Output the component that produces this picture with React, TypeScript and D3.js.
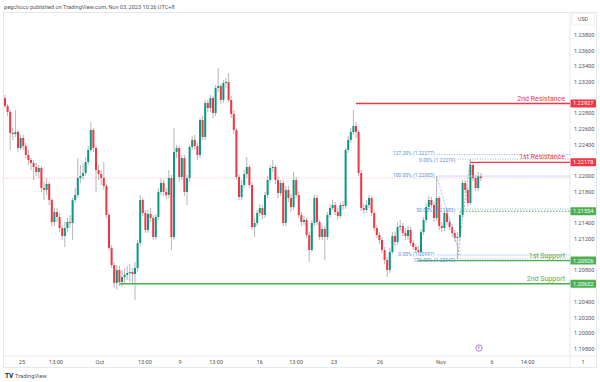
import React from 'react';
import * as d3 from 'd3';

// ---------- DATA ----------
const firstOpen = 1.22997;
const closes = [
  1.22896, 1.22819, 1.22552, 1.22539, 1.22565, 1.22361, 1.22488, 1.22386, 1.22272, 1.22208,
  1.22169, 1.22119, 1.22055, 1.22106, 1.21851, 1.21826, 1.21902, 1.21698, 1.21418, 1.21545,
  1.21482, 1.21341, 1.21239, 1.21341, 1.21418, 1.21405, 1.21698, 1.21762, 1.21978, 1.22004,
  1.22042, 1.22182, 1.22335, 1.22590, 1.22361, 1.22080, 1.22029, 1.21978, 1.21877, 1.21507,
  1.21087, 1.20870, 1.20641, 1.20806, 1.20653, 1.20717, 1.20743, 1.20768, 1.20781, 1.20755,
  1.20832, 1.21150, 1.21698, 1.21533, 1.21316, 1.21520, 1.21469, 1.21227, 1.21482, 1.21800,
  1.21915, 1.21800, 1.21762, 1.21978, 1.21227, 1.22310, 1.22361, 1.21991, 1.22233, 1.21800,
  1.21978, 1.22374, 1.22463, 1.22386, 1.22272, 1.22717, 1.22501, 1.22934, 1.22870, 1.22997,
  1.22806, 1.23125, 1.23150, 1.22972, 1.23189, 1.23201, 1.22972, 1.22794, 1.22590, 1.21991,
  1.21736, 1.21889, 1.22029, 1.22119, 1.21889, 1.21354, 1.21405, 1.21533, 1.21596, 1.21507,
  1.21762, 1.21953, 1.22106, 1.22119, 1.21953, 1.21787, 1.21915, 1.21405, 1.21826, 1.21724,
  1.21609, 1.21953, 1.21762, 1.21507, 1.21418, 1.21443, 1.21252, 1.21061, 1.21405, 1.21724,
  1.21418, 1.21227, 1.21329, 1.21227, 1.21507, 1.21596, 1.21634, 1.21545, 1.21494, 1.21634,
  1.21622, 1.22335, 1.22463, 1.22565, 1.22641, 1.22565, 1.22042, 1.21596, 1.21571, 1.21634,
  1.21724, 1.21533, 1.21341, 1.21252, 1.21189, 1.21061, 1.20934, 1.20806, 1.21036, 1.21239,
  1.21163, 1.21354, 1.21367, 1.21278, 1.21239, 1.21316, 1.21150, 1.21099, 1.21061, 1.21036,
  1.21290, 1.21443, 1.21609, 1.21698, 1.21634, 1.21469, 1.21724, 1.21367, 1.21341, 1.21533,
  1.21418, 1.21354, 1.21278, 1.21214, 1.21227, 1.21507, 1.21915, 1.21826, 1.21660, 1.22144,
  1.21978, 1.21851, 1.22004, 1.21978,
];
const highs = [
  1.23035, 1.22921, 1.22845, 1.22615, 1.22845, 1.22590, 1.22527, 1.22527, 1.22425, 1.22335,
  1.22233, 1.22208, 1.22169, 1.22144, 1.22131, 1.21928, 1.21978, 1.21928, 1.21724, 1.21596,
  1.21596, 1.21533, 1.21380, 1.21418, 1.21469, 1.21507, 1.21724, 1.21851, 1.22233, 1.22144,
  1.22169, 1.22246, 1.22386, 1.22692, 1.22615, 1.22399, 1.22144, 1.22080, 1.22182, 1.21902,
  1.21533, 1.21125, 1.20908, 1.20870, 1.20857, 1.20806, 1.20832, 1.20857, 1.20883, 1.20832,
  1.20908, 1.21189, 1.21762, 1.21724, 1.21571, 1.21571, 1.21596, 1.21507, 1.21520, 1.21851,
  1.21978, 1.21953, 1.21851, 1.22080, 1.22017, 1.22615, 1.22399, 1.22386, 1.22272, 1.22272,
  1.22017, 1.22399, 1.22514, 1.22527, 1.22425, 1.22743, 1.22768, 1.22972, 1.22972, 1.23035,
  1.23023, 1.23163, 1.23380, 1.23176, 1.23227, 1.23252, 1.23316, 1.23023, 1.22845, 1.22615,
  1.22029, 1.21953, 1.22080, 1.22246, 1.22144, 1.21928, 1.21469, 1.21571, 1.21647, 1.21634,
  1.21800, 1.22004, 1.22144, 1.22208, 1.22144, 1.22004, 1.21953, 1.21953, 1.21877, 1.21877,
  1.21775, 1.22055, 1.21991, 1.21800, 1.21545, 1.21494, 1.21469, 1.21290, 1.21443, 1.21762,
  1.21762, 1.21443, 1.21380, 1.21367, 1.21545, 1.21647, 1.21698, 1.21673, 1.21596, 1.21673,
  1.21685, 1.22361, 1.22514, 1.22615, 1.22845, 1.22692, 1.22590, 1.22080, 1.21647, 1.21698,
  1.21762, 1.21749, 1.21571, 1.21380, 1.21290, 1.21227, 1.21099, 1.20972, 1.21087, 1.21290,
  1.21290, 1.21418, 1.21443, 1.21405, 1.21341, 1.21367, 1.21354, 1.21189, 1.21138, 1.21112,
  1.21329, 1.21482, 1.21660, 1.21749, 1.21736, 1.21673, 1.22003, 1.21749, 1.21418, 1.21571,
  1.21571, 1.21469, 1.21392, 1.21316, 1.21290, 1.21545, 1.21953, 1.21953, 1.21864, 1.22219,
  1.22182, 1.22017, 1.22055, 1.22042,
];
const lows = [
  1.22870, 1.22768, 1.22335, 1.22463, 1.22501, 1.22310, 1.22335, 1.22335, 1.22233, 1.22144,
  1.22080, 1.21953, 1.22004, 1.21978, 1.21800, 1.21698, 1.21762, 1.21634, 1.21367, 1.21367,
  1.21418, 1.21290, 1.21189, 1.21099, 1.21290, 1.21341, 1.21189, 1.21660, 1.21724, 1.21915,
  1.21953, 1.22004, 1.22144, 1.22310, 1.22310, 1.21800, 1.21953, 1.21889, 1.21826, 1.21469,
  1.21061, 1.20832, 1.20577, 1.20552, 1.20603, 1.20590, 1.20641, 1.20679, 1.20653, 1.20615,
  1.20424, 1.20781, 1.21112, 1.21494, 1.21278, 1.21278, 1.21418, 1.21189, 1.21189, 1.21443,
  1.21762, 1.21749, 1.21711, 1.21724, 1.21061, 1.21189, 1.22233, 1.21928, 1.21953, 1.21749,
  1.21634, 1.21928, 1.22335, 1.22335, 1.22208, 1.22233, 1.22463, 1.22463, 1.22819, 1.22819,
  1.22743, 1.22768, 1.23074, 1.22921, 1.22934, 1.23125, 1.22946, 1.22743, 1.22539, 1.21953,
  1.21698, 1.21698, 1.21851, 1.21978, 1.21851, 1.21316, 1.21227, 1.21367, 1.21494, 1.21456,
  1.21469, 1.21724, 1.21915, 1.22055, 1.21902, 1.21724, 1.21749, 1.21367, 1.21367, 1.21673,
  1.21545, 1.21571, 1.21724, 1.21469, 1.21367, 1.21380, 1.21214, 1.20908, 1.21036, 1.21367,
  1.21380, 1.21189, 1.21189, 1.20934, 1.21189, 1.21469, 1.21571, 1.21507, 1.21443, 1.21469,
  1.21571, 1.21583, 1.22297, 1.22425, 1.22527, 1.22488, 1.22004, 1.21558, 1.21520, 1.21533,
  1.21596, 1.21494, 1.21303, 1.21214, 1.21138, 1.21023, 1.20883, 1.20717, 1.20768, 1.21010,
  1.21112, 1.21125, 1.21303, 1.21239, 1.21189, 1.21189, 1.21112, 1.21061, 1.21023, 1.20997,
  1.21010, 1.21252, 1.21405, 1.21571, 1.21596, 1.21418, 1.21431, 1.21316, 1.21290, 1.21303,
  1.21380, 1.21316, 1.21227, 1.21163, 1.20947, 1.21189, 1.21469, 1.21787, 1.21622, 1.21634,
  1.21940, 1.21813, 1.21813, 1.21940,
];

// time axis (bar index where each label sits)
const timeTickLabels = ['25', '13:00', 'Oct', '13:00', '9', '13:00', '16', '13:00', '23', '26', 'Nov', '6', '14:00'];
const timeTickBars = [6.5, 19.6, 36.5, 53.8, 67.3, 81.2, 98, 112, 126.5, 144.2, 167.7, 187.3, 201];

// support / resistance levels
const srNames = ['2nd Resistance', '1st Resistance', '', '1st Support', '2nd Support'];
const srPrices = [1.22927, 1.22178, 1.21554, 1.20926, 1.20632];
const srStartBars = [135, 179, 175, 159, 44];
const srKinds = ['res', 'res', 'supDot', 'sup', 'sup'];

// Fibonacci tools
const fib1Ratios = ['0.00%', '100.00%', '127.20%'];
const fib1Prices = [1.20997, 1.22003, 1.22277];
const fib1Anchors = [{ bar: 166, price: 1.22003 }, { bar: 175, price: 1.20997 }];
const fib2Ratios = ['0.00%', '50.00%', '100.00%'];
const fib2Prices = [1.22219, 1.21583, 1.20947];
const fib2Anchors = [{ bar: 174, price: 1.20947 }, { bar: 179, price: 1.22219 }];

// ---------- LAYOUT ----------
const W = 600, H = 382;
const plotL = 4, plotR = 570, plotT = 13, plotB = 356;
const UP = '#089981', DOWN = '#f23645', WICK = '#a3a3a3';
const RED = '#f23645', GREEN = '#4caf50', FIB = '#5b8fd9';
const FONT = 'Roboto, "Noto Sans", sans-serif';

const xScale = d3.scaleLinear().domain([0, 217]).range([5, 5 + 217 * 2.6]);
const yScale = d3.scaleLinear().domain([1.198, 1.238]).range([349, 35]);
const priceTicks = d3.range(0, 21).map((k) => +(1.198 + k * 0.002).toFixed(3));

export default function App() {
  const candles = closes.map((c, i) => {
    const o = i === 0 ? firstOpen : closes[i - 1];
    return { i, o, c, h: Math.max(highs[i], o, c), l: Math.min(lows[i], o, c) };
  });
  const bw = 2;
  const fmt = (p: number) => p.toFixed(5);
  const lastClose = closes[closes.length - 1];
  const badgeYs = srPrices.map((p) => yScale(p));
  const visibleTicks = priceTicks.filter((p) => badgeYs.every((by) => Math.abs(yScale(p) - by) > 6.2));

  return (
    <svg width={W} height={H} style={{ position: 'absolute', left: 0, top: 0, background: '#fff' }}
      fontFamily={FONT}>
      <rect x={0} y={0} width={W} height={H} fill="#fff" />
      <text x={4} y={9} fontSize={5.6} fill="#555">pegchoco published on TradingView.com, Nov 03, 2023 10:26 UTC+8</text>

      {/* panel frame */}
      <rect x={plotL - 0.5} y={plotT - 0.5} width={597 - plotL} height={368 - plotT} fill="none" stroke="#e0e3eb" strokeWidth={0.8} />
      <line x1={plotR} x2={plotR} y1={plotT} y2={368} stroke="#e0e3eb" strokeWidth={0.8} />
      <line x1={plotL} x2={597} y1={plotB} y2={plotB} stroke="#e0e3eb" strokeWidth={0.8} />

      <defs>
        <clipPath id="plotclip"><rect x={plotL} y={plotT} width={plotR - plotL} height={plotB - plotT} /></clipPath>
      </defs>

      <g clipPath="url(#plotclip)">
        {/* current price line */}
        <line x1={plotL} x2={plotR} y1={yScale(lastClose)} y2={yScale(lastClose)} stroke="#f7a1a8" strokeWidth={0.7} strokeDasharray="1 1.5" />

        {/* candles */}
        {candles.map((d) => {
          const x = xScale(d.i);
          const up = d.c > d.o;
          const yTop = yScale(Math.max(d.o, d.c));
          const yBot = yScale(Math.min(d.o, d.c));
          return (
            <g key={d.i}>
              <line x1={x} x2={x} y1={yScale(d.h)} y2={yScale(d.l)} stroke={WICK} strokeWidth={0.8} />
              <rect x={x - bw / 2} y={yTop} width={bw} height={Math.max(0.8, yBot - yTop)} fill={up ? UP : DOWN} />
            </g>
          );
        })}

        {/* fib 1 */}
        <line x1={xScale(fib1Anchors[0].bar)} y1={yScale(fib1Anchors[0].price)} x2={xScale(fib1Anchors[1].bar)} y2={yScale(fib1Anchors[1].price)}
          stroke="#8fb3ec" strokeWidth={0.8} strokeDasharray="2 1.5" />
        {fib1Prices.map((p, k) => (
          <line key={'f1' + k} x1={xScale(fib1Anchors[0].bar)} x2={plotR} y1={yScale(p)} y2={yScale(p)}
            stroke={k === 2 ? '#8a9cc4' : '#b7d0f3'} strokeWidth={0.8} strokeDasharray={k === 2 ? '1 1.5' : undefined} />
        ))}
        {/* fib 2 */}
        <line x1={xScale(fib2Anchors[0].bar)} y1={yScale(fib2Anchors[0].price)} x2={xScale(fib2Anchors[1].bar)} y2={yScale(fib2Anchors[1].price)}
          stroke="#9a9a9a" strokeWidth={0.8} strokeDasharray="2 1.5" />
        {fib2Prices.map((p, k) => (
          <line key={'f2' + k} x1={xScale(fib2Anchors[0].bar)} x2={plotR} y1={yScale(p)} y2={yScale(p)}
            stroke={k === 1 ? '#6f93d6' : '#8a9cc4'} strokeWidth={0.8} strokeDasharray="1 1.5" />
        ))}

        {/* support / resistance */}
        {srPrices.map((p, k) => {
          const kind = srKinds[k];
          const col = kind === 'res' ? RED : GREEN;
          return (
            <line key={'sr' + k} x1={xScale(srStartBars[k])} x2={plotR} y1={yScale(p)} y2={yScale(p)}
              stroke={col} strokeWidth={kind === 'supDot' ? 1.1 : 1.4} strokeDasharray={kind === 'supDot' ? '1.5 1.5' : undefined} />
          );
        })}
      </g>

      {/* fib labels (fib 1 nudged up, fib 2 nudged down so close levels stay legible) */}
      {fib1Prices.map((p, k) => (
        <text key={'f1t' + k} x={xScale(fib1Anchors[0].bar) - 2} y={yScale(p) - 1.2} dy="0.35em" textAnchor="end" fontSize={5} fill={FIB}>
          {fib1Ratios[k]} ({fmt(p)})
        </text>
      ))}
      {fib2Prices.map((p, k) => (
        <text key={'f2t' + k} x={xScale(fib2Anchors[0].bar) - 2} y={yScale(p) + 1.2} dy="0.35em" textAnchor="end" fontSize={5} fill={FIB}>
          {fib2Ratios[k]} ({fmt(p)})
        </text>
      ))}

      {/* S/R labels */}
      {srPrices.map((p, k) => srNames[k] ? (
        <text key={'srt' + k} x={565} y={yScale(p) - 3} textAnchor="end" fontSize={7} fill={srKinds[k] === 'res' ? RED : GREEN}>
          {srNames[k]}
        </text>
      ) : null)}

      {/* price axis */}
      <rect x={572} y={13} width={22} height={12} fill="#fff" stroke="#e0e3eb" strokeWidth={0.6} rx={1} />
      <text x={583} y={19} dy="0.35em" textAnchor="middle" fontSize={5.3} fill="#555">USD</text>
      {visibleTicks.map((p) => (
        <text key={'pt' + p} x={574} y={yScale(p)} dy="0.35em" fontSize={5.6} fill="#555">{fmt(p)}</text>
      ))}
      {srPrices.map((p, k) => (
        <g key={'badge' + k}>
          <rect x={570.5} y={yScale(p) - 4} width={25.5} height={8} fill={srKinds[k] === 'res' ? RED : GREEN} rx={0.8} />
          <text x={573} y={yScale(p)} dy="0.35em" fontSize={5.6} fill="#fff">{fmt(p)}</text>
        </g>
      ))}

      {/* time axis */}
      {timeTickLabels.map((t, k) => (
        <text key={'tt' + k} x={xScale(timeTickBars[k])} y={362} dy="0.35em" textAnchor="middle" fontSize={5.6} fill="#555">{t}</text>
      ))}
      <text x={583} y={362} dy="0.35em" textAnchor="middle" fontSize={5.6} fill="#555">1</text>

      {/* event marker */}
      <circle cx={479} cy={348} r={3.2} fill="#fff" stroke="#9c5bd1" strokeWidth={0.8} />
      <text x={479} y={348} dy="0.35em" textAnchor="middle" fontSize={4} fill="#9c5bd1">E</text>

      {/* TradingView logo */}
      <text x={5} y={378} fontSize={6.5} fontWeight={700} fill="#131722">TV</text>
      <text x={15} y={378} fontSize={5.8} fill="#555">TradingView</text>
    </svg>
  );
}
